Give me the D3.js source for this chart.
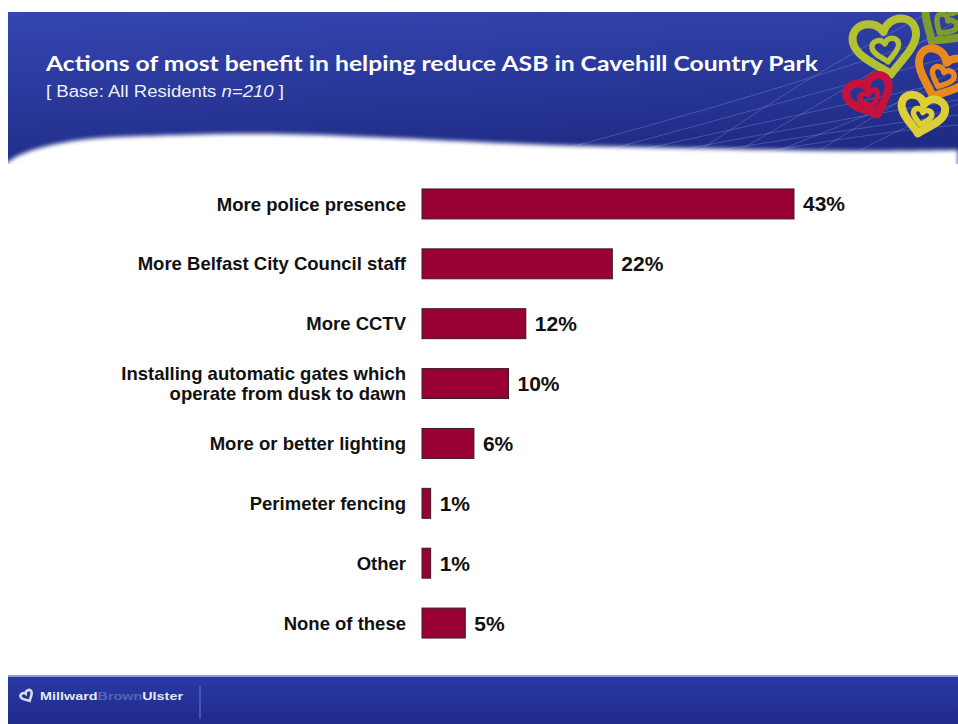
<!DOCTYPE html>
<html>
<head>
<meta charset="utf-8">
<script src="https://cdn.jsdelivr.net/npm/d3@7"></script>
<style>
  html, body { margin: 0; padding: 0; background: #ffffff; }
  svg { display: block; }
</style>
</head>
<body>
<div id="chart"></div>
<script>
// Survey answers and their shares (%)
const categories = [
  "More police presence",
  "More Belfast City Council staff",
  "More CCTV",
  "Installing automatic gates which|operate from dusk to dawn",
  "More or better lighting",
  "Perimeter fencing",
  "Other",
  "None of these"
];
const values = [43, 22, 12, 10, 6, 1, 1, 5];

const titleText = "Actions of most benefit in helping reduce ASB in Cavehill Country Park";
const baseText = "[ Base: All Residents ";
const baseN = "n=210";

const W = 958, H = 724;
const svg = d3.select("#chart").append("svg").attr("width", W).attr("height", H);
const defs = svg.append("defs");

// ---------- header band ----------
const hg = defs.append("linearGradient").attr("id", "hdr").attr("x1", 0).attr("y1", 0).attr("x2", 0.3).attr("y2", 1);
hg.append("stop").attr("offset", 0).attr("stop-color", "#3546b2");
hg.append("stop").attr("offset", 1).attr("stop-color", "#1f2c86");

const blur = defs.append("filter").attr("id", "soft").attr("x", -0.1).attr("y", -0.5).attr("width", 1.2).attr("height", 2);
blur.append("feGaussianBlur").attr("stdDeviation", 2.2);

defs.append("clipPath").attr("id", "hdrClip")
  .append("rect").attr("x", 8).attr("y", 12).attr("width", W - 8).attr("height", 152);

svg.append("rect").attr("x", 8).attr("y", 12).attr("width", W - 8).attr("height", 152).attr("fill", "url(#hdr)");

// faint sweeping lines across the header
const lineG = svg.append("g").attr("clip-path", "url(#hdrClip)")
  .attr("stroke", "#8f9be0").attr("stroke-opacity", 0.35).attr("fill", "none").attr("stroke-width", 1);
const sweeps = [
  [[560, 150], [760, 95], [958, 30]],
  [[600, 152], [790, 100], [958, 55]],
  [[640, 150], [820, 110], [958, 80]],
  [[680, 150], [850, 118], [958, 100]],
  [[720, 150], [880, 125], [958, 115]],
  [[760, 152], [900, 130], [958, 125]],
  [[1000, 60], [880, 110], [780, 150]],
  [[1010, 40], [900, 100], [820, 150]],
  [[990, 90], [920, 120], [860, 150]],
  [[700, 150], [820, 70], [930, 12]],
  [[740, 150], [860, 80], [958, 20]]
];
const curve = d3.line().curve(d3.curveBasis);
sweeps.forEach(s => lineG.append("path").attr("d", curve(s)));

// logo hearts in the top-right corner
function heartPath(s) {
  return `M0,${s * 0.9} C${-s * 0.2},${s * 0.65} ${-s},${s * 0.2} ${-s},${-s * 0.3}
          C${-s},${-s * 0.85} ${-s * 0.25},${-s * 0.95} 0,${-s * 0.45}
          C${s * 0.25},${-s * 0.95} ${s},${-s * 0.85} ${s},${-s * 0.3}
          C${s},${s * 0.2} ${s * 0.2},${s * 0.65} 0,${s * 0.9}Z`;
}
const hearts = [
  { x: 945, y: 22, s: 26, c: "#7f9b2c", r: 35 },
  { x: 886, y: 46, s: 32, c: "#b4c232", r: -10 },
  { x: 942, y: 74, s: 27, c: "#e8891e", r: 22 },
  { x: 870, y: 96, s: 22, c: "#c4123c", r: -22 },
  { x: 922, y: 114, s: 22, c: "#dccf36", r: 12 }
];
const heartG = svg.append("g").attr("clip-path", "url(#hdrClip)");
hearts.forEach(h => {
  heartG.append("path")
    .attr("d", heartPath(h.s))
    .attr("transform", `translate(${h.x},${h.y}) rotate(${h.r})`)
    .attr("fill", "none").attr("stroke", h.c).attr("stroke-width", 8).attr("stroke-linejoin", "round");
  heartG.append("path")
    .attr("d", heartPath(h.s * 0.42))
    .attr("transform", `translate(${h.x},${h.y + h.s * 0.12}) rotate(${h.r})`)
    .attr("fill", "none").attr("stroke", h.c).attr("stroke-width", 5.5).attr("stroke-linejoin", "round");
});

// white wave at the foot of the header
const wavePts = [[0, 172], [8, 162], [30, 151], [80, 140], [180, 135], [280, 134], [370, 137], [550, 145], [730, 149], [860, 151], [958, 150]];
svg.append("path")
  .attr("d", d3.line().curve(d3.curveCatmullRom)(wavePts) + "L958,190L0,190Z")
  .attr("fill", "#ffffff").attr("filter", "url(#soft)");
svg.append("rect").attr("x", 0).attr("y", 164).attr("width", W).attr("height", 20).attr("fill", "#ffffff");

// title block
svg.append("text")
  .attr("x", 46).attr("y", 71)
  .attr("font-family", "Lato, 'Open Sans', sans-serif").attr("font-weight", 700)
  .attr("font-size", 21).attr("fill", "#ffffff")
  .attr("textLength", 772).attr("lengthAdjust", "spacingAndGlyphs")
  .text(titleText);
const sub = svg.append("text")
  .attr("x", 46).attr("y", 97)
  .attr("font-family", "'Liberation Sans Narrow', 'Liberation Sans', sans-serif")
  .attr("font-size", 16).attr("fill", "#eef0f8")
  .attr("textLength", 238).attr("lengthAdjust", "spacingAndGlyphs");
sub.append("tspan").text(baseText);
sub.append("tspan").attr("font-style", "italic").text(baseN);
sub.append("tspan").text(" ]");

// ---------- bar chart ----------
const x = d3.scaleLinear().domain([0, 43]).range([422, 794]);
const y = d3.scaleBand().domain(categories).range([174, 653]).paddingInner(0.5).paddingOuter(0.25);

const barG = svg.append("g");
barG.selectAll("rect.bar")
  .data(categories)
  .join("rect")
  .attr("class", "bar")
  .attr("x", x(0))
  .attr("y", d => y(d))
  .attr("width", (d, i) => x(values[i]) - x(0))
  .attr("height", y.bandwidth())
  .attr("fill", "#990033")
  .attr("stroke", "#3a1a22")
  .attr("stroke-width", 1);

// value labels
barG.selectAll("text.val")
  .data(categories)
  .join("text")
  .attr("class", "val")
  .attr("x", (d, i) => x(values[i]) + 9)
  .attr("y", d => y(d) + y.bandwidth() / 2)
  .attr("dy", "0.36em")
  .attr("font-family", "'Liberation Sans', Arial, sans-serif")
  .attr("font-weight", 700).attr("font-size", 21).attr("fill", "#111111")
  .text((d, i) => values[i] + "%");

// category labels (a "|" splits a two-line label)
const catG = svg.append("g")
  .attr("font-family", "'Liberation Sans', Arial, sans-serif")
  .attr("font-weight", 700).attr("font-size", 18.5).attr("fill", "#111111")
  .attr("text-anchor", "end");
categories.forEach(c => {
  const lines = c.split("|");
  const cy = y(c) + y.bandwidth() / 2;
  const lh = 20;
  const t = catG.append("text").attr("x", 406).attr("y", cy - (lines.length - 1) * lh / 2);
  lines.forEach((ln, k) => {
    t.append("tspan").attr("x", 406).attr("dy", k === 0 ? "0.36em" : lh).text(ln);
  });
});

// ---------- footer band ----------
const fg = defs.append("linearGradient").attr("id", "ftr").attr("x1", 0).attr("y1", 0).attr("x2", 0).attr("y2", 1);
fg.append("stop").attr("offset", 0).attr("stop-color", "#2a3aa6");
fg.append("stop").attr("offset", 1).attr("stop-color", "#1e2b8a");
svg.append("rect").attr("x", 8).attr("y", 675).attr("width", W - 8).attr("height", 49).attr("fill", "url(#ftr)");
svg.append("rect").attr("x", 8).attr("y", 675).attr("width", W - 8).attr("height", 2).attr("fill", "#8d98d6");
svg.append("line").attr("x1", 200).attr("x2", 200).attr("y1", 686).attr("y2", 719)
  .attr("stroke", "#6f7cc4").attr("stroke-width", 1);

// company mark
const mark = svg.append("g").attr("transform", "translate(27,696)");
mark.append("path").attr("d", heartPath(6)).attr("transform", "rotate(-30)")
  .attr("fill", "none").attr("stroke", "#d8dcef").attr("stroke-width", 2.6);
const brand = svg.append("text").attr("x", 40).attr("y", 700)
  .attr("font-family", "'Liberation Sans', Arial, sans-serif").attr("font-weight", 700).attr("font-size", 11)
  .attr("textLength", 143).attr("lengthAdjust", "spacingAndGlyphs");
brand.append("tspan").attr("fill", "#e6e8f4").text("Millward");
brand.append("tspan").attr("fill", "#5566b8").text("Brown");
brand.append("tspan").attr("fill", "#e6e8f4").text("Ulster");
</script>
</body>
</html>
